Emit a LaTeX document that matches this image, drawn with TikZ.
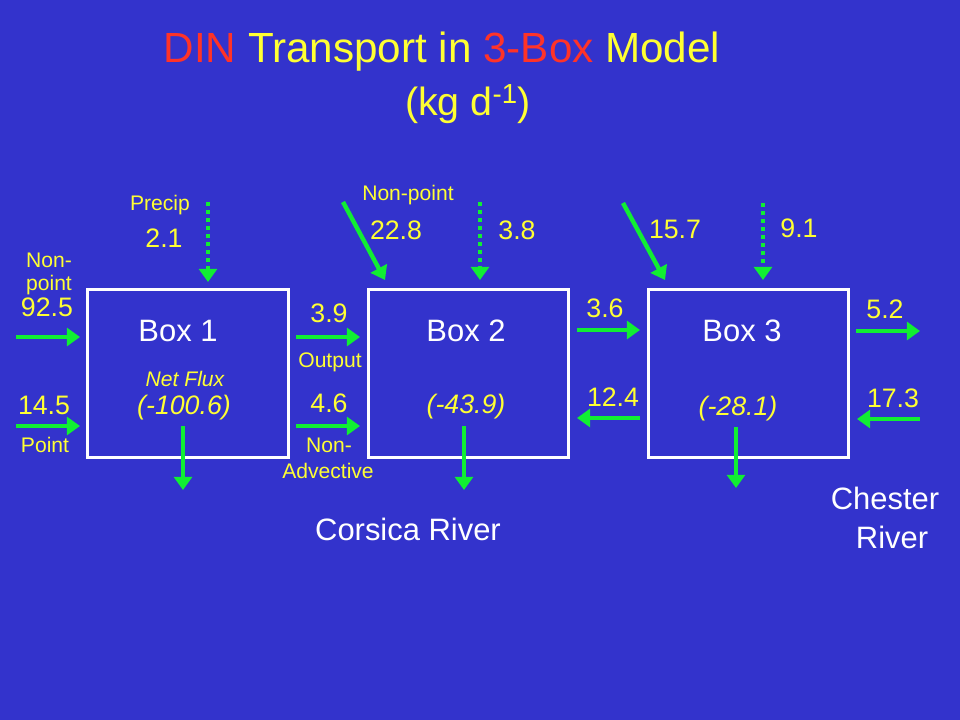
\documentclass[tikz,border=0pt]{standalone}
\usepackage{fontspec}
\setmainfont{Liberation Sans}
\usetikzlibrary{arrows.meta}

\definecolor{bgblue}{RGB}{51,51,204}
\definecolor{txtyellow}{RGB}{255,255,51}
\definecolor{txtred}{RGB}{255,51,40}
\definecolor{flowgreen}{RGB}{17,238,51}

\tikzset{
  flow/.style={draw=flowgreen, line width=0.11cm,
    -{Triangle[length=0.33cm,width=0.45cm]}},
  rain/.style={flow, dash pattern=on 0.1cm off 0.1cm},
  boxnode/.style={draw=white, line width=0.075cm, minimum width=5cm,
    minimum height=4.175cm, inner sep=0pt}
}

\begin{document}
\begin{tikzpicture}[x=0.025cm,y=-0.025cm]

      \fill[bgblue] (0,0) rectangle (960,720);

      % title
      \begin{scope}[every node/.style={anchor=base,text=txtyellow}]
        \node (title) at (442,63) {\fontsize{30}{36}\selectfont
          \textcolor{txtred}{DIN} Transport in \textcolor{txtred}{3-Box} Model};
        \node (units) at (468,116) {\fontsize{28}{34}\selectfont (kg d\textsuperscript{-1})};
      \end{scope}

      % boxes
      \begin{scope}[every node/.style={boxnode}]
        \node (b1) at (188,373.5) {};
        \node (b2) at (468.5,373.5) {};
        \node (b3) at (748.5,373.5) {};
      \end{scope}

      \begin{scope}[every node/.style={anchor=base,text=white,font=\fontsize{22}{26}\selectfont}]
        \node (n1) at (178,342) {Box 1};
        \node (n2) at (466,342) {Box 2};
        \node (n3) at (742,342) {Box 3};
        \node (corsica) at (408,540) {Corsica River};
        \node (chester) at (885,510) {Chester};
        \node (river) at (892,548) {River};
      \end{scope}

      % small labels
      \begin{scope}[every node/.style={anchor=base,inner sep=1pt,text=txtyellow,font=\fontsize{15}{18}\selectfont}]
        \node (l1) at (49,268) {Non-};
        \node (l2) at (49,291) {point};
        \node (l3) at (45,453) {Point};
        \node (l4) at (160,211) {Precip};
        \node (l5) at (330,368) {Output};
        \node (l6) at (329,453) {Non-};
        \node (l7) at (328,479) {Advective};
        \node (l8) at (408,201) {Non-point};
        \node (l9) at (185,387) {\itshape Net Flux};
      \end{scope}

      % fluxes
      \begin{scope}[every node/.style={anchor=base,inner sep=1pt,text=txtyellow,font=\fontsize{19}{22}\selectfont}]
        \node (v1) at (47,317) {92.5};
        \node (v2) at (44,415) {14.5};
        \node (v3) at (164,248) {2.1};
        \node (v4) at (329,323) {3.9};
        \node (v5) at (329,413) {4.6};
        \node (v6) at (396,240) {22.8};
        \node (v7) at (517,240) {3.8};
        \node (v8) at (605,318) {3.6};
        \node (v9) at (613,407) {12.4};
        \node (v10) at (675,239) {15.7};
        \node (v11) at (799,238) {9.1};
        \node (v12) at (885,319) {5.2};
        \node (v13) at (893,408) {17.3};
        \node (f1) at (184,415) {\itshape (-100.6)};
        \node (f2) at (466,414) {\itshape (-43.9)};
        \node (f3) at (738,416) {\itshape (-28.1)};
      \end{scope}

      % arrow ends
      \coordinate (np1s) at (16,337);   \coordinate (np1e) at (80,337);
      \coordinate (pt1s) at (16,426);   \coordinate (pt1e) at (80,426);
      \coordinate (pr1s) at (208,202);  \coordinate (pr1e) at (208,282);
      \coordinate (o1s) at (183,426);   \coordinate (o1e) at (183,490);
      \coordinate (a12s) at (296,337);  \coordinate (a12e) at (360,337);
      \coordinate (d12s) at (296,426);  \coordinate (d12e) at (360,426);
      \coordinate (np2s) at (343,202);  \coordinate (np2e) at (385,280);
      \coordinate (pr2s) at (480,202);  \coordinate (pr2e) at (480,280);
      \coordinate (o2s) at (464,426);   \coordinate (o2e) at (464,490);
      \coordinate (a23s) at (577,330);  \coordinate (a23e) at (640,330);
      \coordinate (d32s) at (640,418);  \coordinate (d32e) at (577,418);
      \coordinate (np3s) at (623,203);  \coordinate (np3e) at (665,280);
      \coordinate (pr3s) at (763,203);  \coordinate (pr3e) at (763,280);
      \coordinate (o3s) at (736,427);   \coordinate (o3e) at (736,488);
      \coordinate (a3os) at (856,331);  \coordinate (a3oe) at (920,331);
      \coordinate (d3os) at (920,419);  \coordinate (d3oe) at (857,419);

      \begin{scope}[every edge/.style={flow}]
        \path (np1s) edge (np1e);
        \path (pt1s) edge (pt1e);
        \path (o1s)  edge (o1e);
        \path (a12s) edge (a12e);
        \path (d12s) edge (d12e);
        \path (np2s) edge (np2e);
        \path (o2s)  edge (o2e);
        \path (a23s) edge (a23e);
        \path (d32s) edge (d32e);
        \path (np3s) edge (np3e);
        \path (o3s)  edge (o3e);
        \path (a3os) edge (a3oe);
        \path (d3os) edge (d3oe);
      \end{scope}

      \begin{scope}[every edge/.style={rain}]
        \path (pr1s) edge (pr1e);
        \path (pr2s) edge (pr2e);
        \path (pr3s) edge (pr3e);
      \end{scope}

    \end{tikzpicture}
\end{document}
